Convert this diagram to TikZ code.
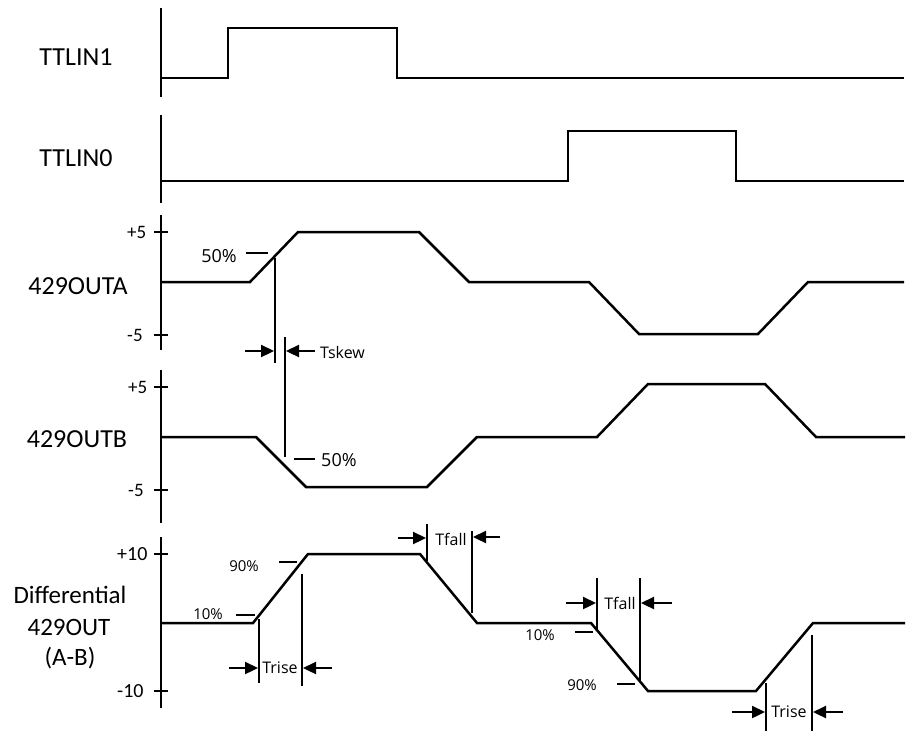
\documentclass[tikz,border=0pt]{standalone}
\usepackage{fontspec}
\setmainfont{Carlito}
\newfontfamily\osans{Open Sans}
\usetikzlibrary{arrows.meta}
\begin{document}
\begin{tikzpicture}[x=1pt,y=-1pt,
  sig/.style={line width=2.5pt, line join=miter},
  axis/.style={line width=2.6pt},
  dim/.style={line width=2.3pt},
  arr/.style={dim, -{Triangle[length=13pt,width=12pt]}},
  biglbl/.style={font=\fontsize{26}{31}\selectfont, inner sep=0pt, anchor=base},
  ticklbl/.style={font=\fontsize{19}{22}\selectfont, inner sep=0pt, anchor=west},
  pct/.style={font=\osans\fontsize{15}{18}\selectfont, inner sep=0pt},
  halfpct/.style={font=\osans\fontsize{18}{21}\selectfont, inner sep=0pt},
  tlbl/.style={font=\osans\fontsize{16}{19}\selectfont, inner sep=0pt}]
\useasboundingbox (0,0) rectangle (907,731);

% ---------- labels ----------
\node[biglbl] (l1) at (76,65) {TTLIN1};
\node[biglbl] (l0) at (76,166) {TTLIN0};
\node[biglbl] (la) at (78,294) {429OUTA};
\node[biglbl] (lb) at (77,447) {429OUTB};
\node[biglbl,font=\fontsize{25}{31}\selectfont] (ld1) at (70,603) {Differential};
\node[biglbl,font=\fontsize{25}{31}\selectfont] (ld2) at (69,635) {429OUT};
\node[biglbl,font=\fontsize{25}{31}\selectfont] (ld3) at (70,665) {(A-B)};

% ---------- axes ----------
\draw[axis] (161,8) -- (161,97);
\draw[axis] (161,115) -- (161,203);
\draw[axis] (161,215) -- (161,350);
\draw[axis] (161,370) -- (161,523);
\draw[axis] (161,537) -- (161,708);
% ticks
\draw[axis] (154,232) -- (168,232);
\draw[axis] (154,335) -- (168,335);
\draw[axis] (154,387) -- (168,387);
\draw[axis] (154,490) -- (168,490);
\draw[axis] (154,554) -- (168,554);
\draw[axis] (154,691) -- (168,691);
\node[ticklbl] (ta1) at (127,232) {+5};
\node[ticklbl] (ta2) at (127,335) {-5};
\node[ticklbl] (tb1) at (128,387) {+5};
\node[ticklbl] (tb2) at (128,490) {-5};
\node[ticklbl,font=\fontsize{20}{23}\selectfont] (td1) at (117,554) {+10};
\node[ticklbl,font=\fontsize{20}{23}\selectfont] (td2) at (117,691) {-10};

% ---------- signals ----------
\draw[sig] (161,78) -- (228,78) -- (228,28) -- (397,28) -- (397,78) -- (904,78);
\draw[sig] (161,181) -- (568,181) -- (568,131) -- (736,131) -- (736,181) -- (904,181);
\draw[sig] (161,282) -- (250,282) -- (298,232) -- (419,232) -- (469,282) -- (589,282)
  -- (639,334) -- (758,334) -- (808,282) -- (904,282);
\draw[sig] (161,437) -- (256,437) -- (306,487) -- (427,487) -- (477,437) -- (597,437)
  -- (648,384) -- (765,384) -- (816,437) -- (905,437);
\draw[sig] (161,623) -- (253,623) -- (308,554) -- (420,554) -- (477,623) -- (591,623)
  -- (648,691) -- (756,691) -- (813,623) -- (905,623);

% ---------- Tskew ----------
\draw[dim] (246,253) -- (268,253);
\node[halfpct,anchor=east] (pa) at (237,256) {50\%};
\draw[dim] (294,459) -- (315,459);
\node[halfpct,anchor=west] (pb) at (321,460) {50\%};
\draw[dim] (275,258) -- (275,363);
\draw[dim] (285,337) -- (285,457);
\coordinate (sk1) at (245,351);
\coordinate (sk2) at (315,351);
\draw[arr] (sk1) -- (274,351);
\draw[arr] (sk2) -- (286,351);
\node[tlbl,anchor=west] (tsk) at (320,352) {Tskew};

% ---------- first rise ----------
\draw[dim] (236,615) -- (255,615);
\draw[dim] (279,562) -- (297,562);
\node[pct] (p10a) at (208,614) {10\%};
\node[pct] (p90a) at (244,566) {90\%};
\draw[dim] (259,619) -- (259,683);
\draw[dim] (302,574) -- (302,686);
\draw[arr] (229,668) -- (258,668);
\draw[arr] (332,668) -- (303,668);
\node[tlbl] (tr1) at (280,668) {Trise};

% ---------- first fall ----------
\draw[dim] (427,524) -- (427,561);
\draw[dim] (472,531) -- (472,613);
\draw[arr] (398,538) -- (426,538);
\draw[arr] (500,537) -- (473,537);
\node[tlbl] (tf1) at (451,539) {Tfall};

% ---------- second fall ----------
\draw[dim] (575,632) -- (593,632);
\draw[dim] (617,684) -- (635,684);
\node[pct] (p10b) at (540,635) {10\%};
\node[pct] (p90b) at (582,685) {90\%};
\draw[dim] (597,578) -- (597,629);
\draw[dim] (640,578) -- (640,682);
\draw[arr] (566,603) -- (596,603);
\draw[arr] (672,603) -- (641,603);
\node[tlbl] (tf2) at (620,603) {Tfall};

% ---------- second rise ----------
\draw[dim] (766,683) -- (766,731);
\draw[dim] (812,635) -- (812,731);
\draw[arr] (732,712) -- (765,712);
\draw[arr] (843,712) -- (813,712);
\node[tlbl] (tr2) at (789,712) {Trise};
\end{tikzpicture}
\end{document}
